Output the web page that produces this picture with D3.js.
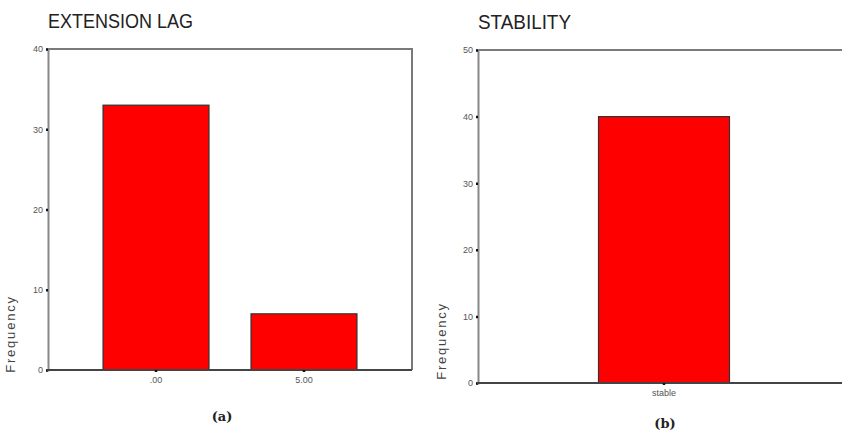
<!DOCTYPE html>
<html>
<head>
<meta charset="utf-8">
<script src="https://cdn.jsdelivr.net/npm/d3@7"></script>
<style>
  body { margin: 0; background: #fff; }
  svg { display: block; }
  .tick text { font-family: Arial, "Liberation Sans", sans-serif; font-size: 9px; fill: #555; }
</style>
</head>
<body>
<div class="chart"></div>
<script>
var svgWidth = 842;
var svgHeight = 435;

// panel (a)
var lagCategories = [".00", "5.00"];
var lagValues = [33, 7];
var lagTicks = [0, 10, 20, 30, 40];

// panel (b)
var stabCategories = ["stable"];
var stabValues = [40];
var stabTicks = [0, 10, 20, 30, 40, 50];

var svg = d3.select(".chart")
  .append("svg")
  .attr("width", svgWidth)
  .attr("height", svgHeight);

function drawPanel(opts) {
  var g = svg.append("g")
    .attr("transform", `translate(${opts.left}, ${opts.top})`);
  var width = opts.width;
  var height = opts.height;

  var x = d3.scaleBand()
    .domain(opts.categories)
    .range([0, width])
    .paddingInner(opts.padInner)
    .paddingOuter(opts.padOuter);

  var y = d3.scaleLinear()
    .domain([0, d3.max(opts.ticks)])
    .range([height, 0]);

  // frame (top and right)
  g.append("path")
    .attr("d", `M0,0H${width}V${height}`)
    .attr("fill", "none")
    .attr("stroke", "#7a7a7a")
    .attr("stroke-width", 2);

  // left axis
  var leftAxis = d3.axisLeft(y).tickValues(opts.ticks).tickSize(2).tickPadding(3);
  var ly = g.append("g").call(leftAxis);
  ly.select(".domain").attr("stroke", "#888").attr("stroke-width", 2);
  ly.selectAll(".tick line").attr("stroke", "#111").attr("stroke-width", 2.5);

  // bars
  g.selectAll("rect.bar")
    .data(opts.values)
    .enter()
    .append("rect")
    .attr("class", "bar")
    .attr("x", (d, i) => x(opts.categories[i]))
    .attr("y", d => y(d))
    .attr("width", x.bandwidth())
    .attr("height", d => height - y(d))
    .attr("fill", "#ff0000")
    .attr("stroke", "#333")
    .attr("stroke-width", 1.2);

  // bottom axis
  var bottomAxis = d3.axisBottom(x).tickSize(2).tickPadding(5);
  var bx = g.append("g")
    .attr("transform", `translate(0, ${height})`)
    .call(bottomAxis);
  bx.select(".domain").attr("stroke", "#444").attr("stroke-width", 2)
    .attr("d", `M-1,0H${width}`);
  bx.selectAll(".tick line").attr("stroke", "#111").attr("stroke-width", 2.5);

  // title
  g.append("text")
    .attr("x", opts.titleX)
    .attr("y", -21)
    .attr("font-family", "Arial, 'Liberation Sans', sans-serif")
    .attr("font-size", 21)
    .attr("fill", "#222")
    .attr("textLength", opts.titleLen)
    .attr("lengthAdjust", "spacingAndGlyphs")
    .text(opts.title);

  // y label
  g.append("text")
    .attr("transform", `translate(${opts.yLabelX}, ${opts.yLabelY}) rotate(-90)`)
    .attr("text-anchor", "middle")
    .attr("font-family", "Arial, 'Liberation Sans', sans-serif")
    .attr("font-size", 13)
    .attr("letter-spacing", 1.8)
    .attr("fill", "#444")
    .text("Frequency");

  // caption
  g.append("text")
    .attr("x", opts.capX)
    .attr("y", opts.capY)
    .attr("text-anchor", "middle")
    .attr("font-family", "'DejaVu Serif', 'Liberation Serif', serif")
    .attr("font-size", 13)
    .attr("font-weight", "bold")
    .attr("fill", "#222")
    .text(opts.caption);
}

drawPanel({
  left: 48, top: 49, width: 364, height: 321,
  categories: lagCategories, values: lagValues, ticks: lagTicks,
  padInner: 0.284, padOuter: 0.372,
  title: "EXTENSION LAG", titleX: 0, titleLen: 145,
  yLabelX: -33, yLabelY: 285,
  caption: "(a)", capX: 174, capY: 372
});

drawPanel({
  left: 478, top: 50, width: 372, height: 333,
  categories: stabCategories, values: stabValues, ticks: stabTicks,
  padInner: 0, padOuter: 0.92,
  title: "STABILITY", titleX: 0, titleLen: 93,
  yLabelX: -32, yLabelY: 291,
  caption: "(b)", capX: 187, capY: 378
});
</script>
</body>
</html>
